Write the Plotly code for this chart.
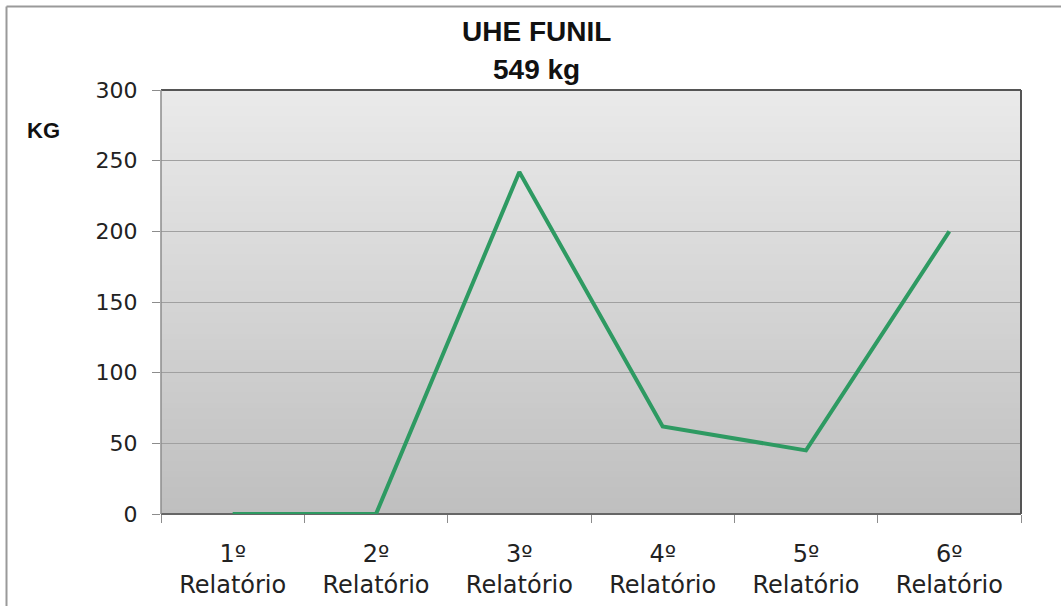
import plotly.graph_objects as go

categories = ["1º<br>Relatório", "2º<br>Relatório", "3º<br>Relatório",
              "4º<br>Relatório", "5º<br>Relatório", "6º<br>Relatório"]
values_kg = [0, 0, 242, 62, 45, 200]
y_ticks = [0, 50, 100, 150, 200, 250, 300]

W, H = 1061, 606
L, R, T, B = 161, 40, 90, 92
PW, PH = W - L - R, H - T - B

fig = go.Figure()
fig.add_trace(go.Scatter(
    x=categories, y=values_kg, mode="lines",
    line=dict(color="#2e9a62", width=4), hoverinfo="skip", showlegend=False))

shapes = []
# vertical gradient background (light top -> darker bottom)
n = 80
top_c, bot_c = 234, 191
for i in range(n):
    f0, f1 = i / n, (i + 1) / n
    c = round(bot_c + (top_c - bot_c) * (f0 + f1) / 2)
    shapes.append(dict(type="rect", xref="x domain", yref="y domain",
                       x0=0, x1=1, y0=f0, y1=f1 + 0.002, layer="below",
                       line=dict(width=0), fillcolor=f"rgb({c},{c},{c})"))
# plot area border
dark = "#555555"
shapes += [
    dict(type="line", xref="x domain", yref="y domain", x0=0, x1=1, y0=0, y1=0,
         line=dict(color="#666666", width=2), layer="below"),
    dict(type="line", xref="x domain", yref="y domain", x0=0, x1=1, y0=1, y1=1,
         line=dict(color=dark, width=2), layer="above"),
    dict(type="line", xref="x domain", yref="y domain", x0=1, x1=1, y0=0, y1=1,
         line=dict(color=dark, width=2), layer="above"),
    dict(type="line", xref="x domain", yref="y domain", x0=0, x1=0, y0=0, y1=1,
         line=dict(color="#8c8c8c", width=1.5), layer="above"),
]
# outer chart border (top and left edges visible)
bx0 = (6.5 - L) / PW
by1 = (H - B - 6.5) / PH
shapes += [
    dict(type="line", xref="paper", yref="paper", x0=bx0, x1=1.2, y0=by1, y1=by1,
         line=dict(color="#9a9a9a", width=2)),
    dict(type="line", xref="paper", yref="paper", x0=bx0, x1=bx0, y0=by1, y1=-0.3,
         line=dict(color="#9a9a9a", width=2)),
]

title_x = (536 - L) / PW
annotations = [
    dict(text="<b>UHE FUNIL</b>", xref="paper", yref="paper",
         x=title_x, y=(H - B - 32) / PH, showarrow=False,
         font=dict(family="Liberation Sans", size=28, color="#111111"),
         xanchor="center", yanchor="middle"),
    dict(text="<b>549 kg</b>", xref="paper", yref="paper",
         x=title_x, y=(H - B - 70) / PH, showarrow=False,
         font=dict(family="Liberation Sans", size=28, color="#111111"),
         xanchor="center", yanchor="middle"),
    dict(text="<b>KG</b>", xref="paper", yref="paper",
         x=(43 - L) / PW, y=(H - B - 130) / PH, showarrow=False,
         font=dict(family="Liberation Sans", size=22, color="#111111"),
         xanchor="center", yanchor="middle"),
]

fig.update_layout(
    width=W, height=H,
    margin=dict(l=L, r=R, t=T, b=B, pad=0, autoexpand=False),
    paper_bgcolor="white", plot_bgcolor="rgba(0,0,0,0)",
    shapes=shapes, annotations=annotations, showlegend=False,
    xaxis=dict(type="category", tickson="boundaries", ticks="outside",
               ticklen=8, tickcolor="#8c8c8c", tickwidth=1,
               showgrid=False, showline=False, zeroline=False, automargin=False,
               range=[-0.5, 5.5], ticklabelstandoff=23,
               tickfont=dict(family="DejaVu Sans", size=24, color="#222222")),
    yaxis=dict(range=[0, 300], tickvals=y_ticks, ticks="outside",
               ticklen=8, tickcolor="#8c8c8c", tickwidth=1, automargin=False,
               showgrid=True, gridcolor="#a0a0a0", gridwidth=1,
               zeroline=False, showline=False, ticklabelstandoff=10,
               tickfont=dict(family="DejaVu Sans", size=22, color="#222222")),
)

fig.write_html("out.html", config={"displayModeBar": False},
               post_script="document.body.style.margin='0';"
                           "document.body.style.overflow='hidden';")
